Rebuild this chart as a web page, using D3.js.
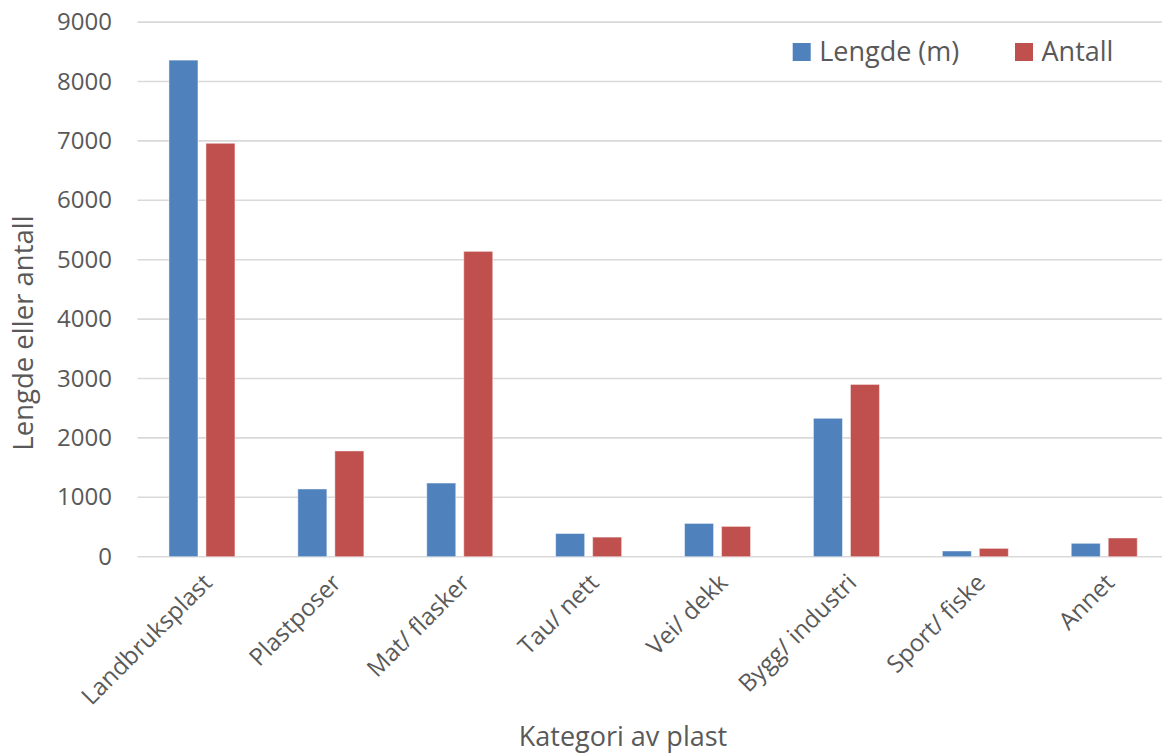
<!DOCTYPE html>
<html>
<head>
<meta charset="utf-8">
<script src="https://cdn.jsdelivr.net/npm/d3@7"></script>
<style>
  html, body { margin: 0; padding: 0; background: #ffffff; }
  svg { display: block; }
  text { font-family: "Open Sans", "Noto Sans", sans-serif; fill: #595959; }
</style>
</head>
<body>
<svg id="chart" width="1162" height="756"></svg>
<script>
const categories = ["Landbruksplast", "Plastposer", "Mat/ flasker", "Tau/ nett", "Vei/ dekk", "Bygg/ industri", "Sport/ fiske", "Annet"];
const seriesNames = ["Lengde (m)", "Antall"];
const lengde = [8360, 1140, 1240, 390, 560, 2330, 96, 225];
const antall = [6960, 1780, 5140, 330, 510, 2900, 140, 315];
const yTicks = [0, 1000, 2000, 3000, 4000, 5000, 6000, 7000, 8000, 9000];
const colors = ["#4F81BD", "#C0504D"];
const xTitle = "Kategori av plast";
const yTitle = "Lengde eller antall";

const seriesValues = [lengde, antall];
const rows = categories.map((c, i) => ({ cat: c, vals: seriesValues.map(s => s[i]) }));

const svg = d3.select("#chart");
const pLeft = 137.5, pRight = 1168.7, pTop = 22.1, pBottom = 556.7;

const x0 = d3.scaleBand().domain(categories).range([pLeft, pRight]).paddingInner(0.488).paddingOuter(0.244);
const x1 = d3.scaleBand().domain(d3.range(seriesNames.length)).range([0, x0.bandwidth()]).paddingInner(0.216).paddingOuter(0);
const y = d3.scaleLinear().domain([0, 9000]).range([pBottom, pTop]);

// gridlines
svg.append("g").selectAll("line").data(yTicks).join("line")
  .attr("x1", pLeft).attr("x2", 1162)
  .attr("y1", d => y(d)).attr("y2", d => y(d))
  .attr("stroke", "#d9d9d9").attr("stroke-width", 1.6);

// y tick labels via axis
const yAxis = d3.axisLeft(y).tickValues(yTicks).tickSize(0).tickPadding(0).tickFormat(d3.format("d"));
const yg = svg.append("g").attr("transform", `translate(112,0)`).call(yAxis);
yg.select(".domain").remove();
yg.selectAll("text").attr("font-size", 24).attr("fill", "#595959")
  .style("font-family", '"Open Sans", "Noto Sans", sans-serif');

// bars
const groups = svg.append("g").selectAll("g").data(rows).join("g")
  .attr("transform", d => `translate(${x0(d.cat)},0)`);
groups.selectAll("rect").data(d => d.vals.map((v, k) => ({ v, k }))).join("rect")
  .attr("x", d => x1(d.k))
  .attr("width", x1.bandwidth())
  .attr("y", d => y(d.v))
  .attr("height", d => y(0) - y(d.v))
  .attr("fill", d => colors[d.k])
  .attr("stroke", "rgba(255,255,255,0.45)")
  .attr("stroke-width", 1);

// x tick labels via axis
const xAxis = d3.axisBottom(x0).tickSize(0).tickPadding(0);
const xg = svg.append("g").attr("transform", `translate(0,${pBottom})`).call(xAxis);
xg.select(".domain").remove();
xg.selectAll("text")
  .attr("font-size", 24).attr("fill", "#595959")
  .style("font-family", '"Open Sans", "Noto Sans", sans-serif')
  .attr("text-anchor", "end")
  .attr("dy", null).attr("y", null)
  .attr("transform", "translate(7,23) rotate(-45)")
  .attr("dominant-baseline", "middle");

// axis titles
svg.append("text").attr("x", 623).attr("y", 746)
  .attr("text-anchor", "middle").attr("font-size", 27).text(xTitle);
svg.append("text").attr("transform", `translate(33,333) rotate(-90)`)
  .attr("text-anchor", "middle").attr("font-size", 27.5).text(yTitle);

// legend
const legendX = [792.7, 1015];
const lg = svg.append("g").selectAll("g").data(seriesNames).join("g")
  .attr("transform", (d, i) => `translate(${legendX[i]},43)`);
lg.append("rect").attr("width", 18).attr("height", 18).attr("fill", (d, i) => colors[i]);
lg.append("text").attr("x", 26.5).attr("y", 17.7)
  .attr("font-size", 27).text(d => d);
</script>
</body>
</html>
